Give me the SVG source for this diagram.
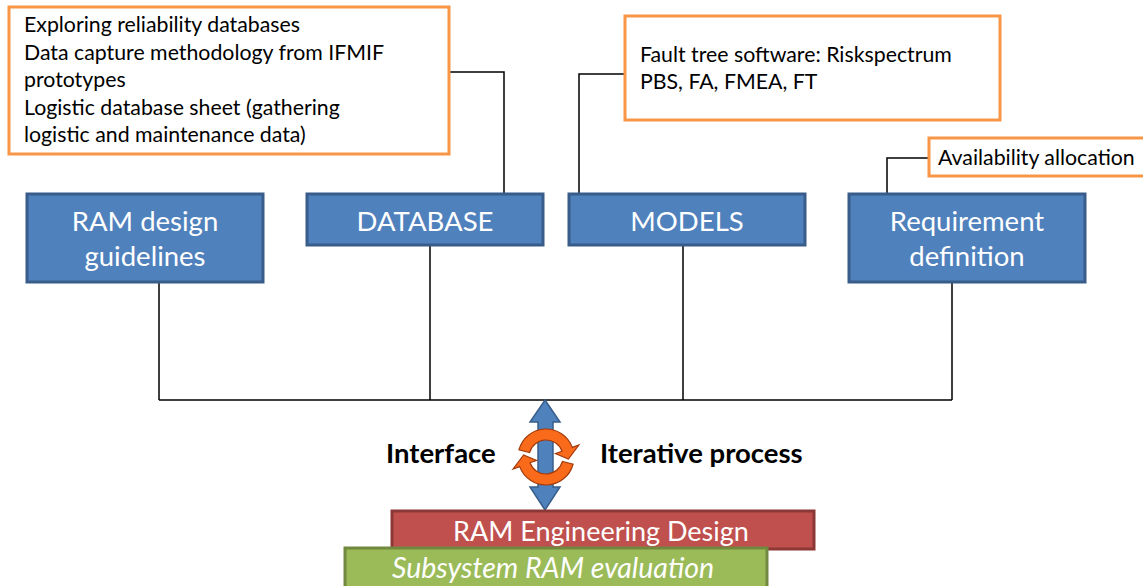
<svg xmlns="http://www.w3.org/2000/svg" width="1143" height="586" viewBox="0 0 1143 586">
<style>
.note{fill:#fff;stroke:#F79646;stroke-width:3}
.nt{font-family:Lato,"Liberation Sans",sans-serif;font-size:21.3px;fill:#000}
.blue{fill:#4F81BD;stroke:#385D8A;stroke-width:3}
.bt{font-family:Lato,"Liberation Sans",sans-serif;font-size:27.5px;fill:#fff;text-anchor:middle}
.conn{fill:none;stroke:#000;stroke-width:1.5}
.lbl{font-family:Lato,"Liberation Sans",sans-serif;font-size:27.5px;font-weight:bold;fill:#000}
.cyc{fill:#F96A1B;stroke:#A33A0A;stroke-width:1.2}
</style>
<rect width="1143" height="586" fill="#fff"/>
<g id="connectors">
<path class="conn" d="M449,72 H504 V194"/>
<path class="conn" d="M625,74 H579 V194"/>
<path class="conn" d="M929,158 H887 V194"/>
<path class="conn" d="M159,282 V400 M430,245 V400 M683,245 V400 M952,282 V400 M159,400 H952"/>
</g>
<g id="note-database">
<rect class="note" x="9" y="7" width="440" height="147"/>
<text class="nt" x="24" y="32">Exploring reliability databases</text>
<text class="nt" x="24" y="59.5">Data capture methodology from IFMIF</text>
<text class="nt" x="24" y="87">prototypes</text>
<text class="nt" x="24" y="114.5">Logistic database sheet (gathering</text>
<text class="nt" x="24" y="142">logistic and maintenance data)</text>
</g>
<g id="note-models">
<rect class="note" x="625" y="16" width="375" height="104"/>
<text class="nt" x="640" y="62">Fault tree software: Riskspectrum</text>
<text class="nt" x="640" y="89">PBS, FA, FMEA, FT</text>
</g>
<g id="note-requirement">
<rect class="note" x="929" y="138" width="216" height="38"/>
<text class="nt" x="938" y="165">Availability allocation</text>
</g>
<g id="ram-guidelines">
<rect class="blue" x="27" y="194" width="236" height="88"/>
<text class="bt" x="145" y="231">RAM design</text>
<text class="bt" x="145" y="266">guidelines</text>
</g>
<g id="database">
<rect class="blue" x="307" y="194" width="236" height="51"/>
<text class="bt" x="425" y="231">DATABASE</text>
</g>
<g id="models">
<rect class="blue" x="569" y="194" width="236" height="51"/>
<text class="bt" x="687" y="231">MODELS</text>
</g>
<g id="requirement">
<rect class="blue" x="849" y="194" width="236" height="88"/>
<text class="bt" x="967" y="231">Requirement</text>
<text class="bt" x="967" y="266">definition</text>
</g>
<g id="interface-arrow">
<path d="M545,400 L560,422 H553 V487 H560 L545,510 L530,487 H538 V422 H530 Z" fill="#4F81BD" stroke="#385D8A" stroke-width="1.5"/>
<path class="cyc" d="M518.95,449.75 A28 28 0 0 1 572.3,447.4 L578.9,445 L568.4,459 L555.4,453.6 L562,451.2 A17 17 0 0 0 529.6,452.6 Z"/>
<path class="cyc" d="M573.05,464.25 A28 28 0 0 1 519.7,466.6 L513.1,469 L523.6,455 L536.6,460.4 L530,462.8 A17 17 0 0 0 562.4,461.4 Z"/>
</g>
<text class="lbl" x="386" y="463">Interface</text>
<text class="lbl" x="600" y="463">Iterative process</text>
<g id="ram-engineering">
<rect x="392" y="511" width="422" height="38" fill="#C0504D" stroke="#8C3836" stroke-width="3"/>
<text x="601" y="541" font-family="Lato,'Liberation Sans',sans-serif" font-size="27" fill="#fff" text-anchor="middle">RAM Engineering Design</text>
</g>
<g id="subsystem-evaluation">
<rect x="345" y="548" width="422" height="40" fill="#9BBB59" stroke="#71893F" stroke-width="3"/>
<text x="392" y="578" font-family="Lato,'Liberation Sans',sans-serif" font-size="28.5" font-style="italic" fill="#fff">Subsystem RAM evaluation</text>
</g>
</svg>
